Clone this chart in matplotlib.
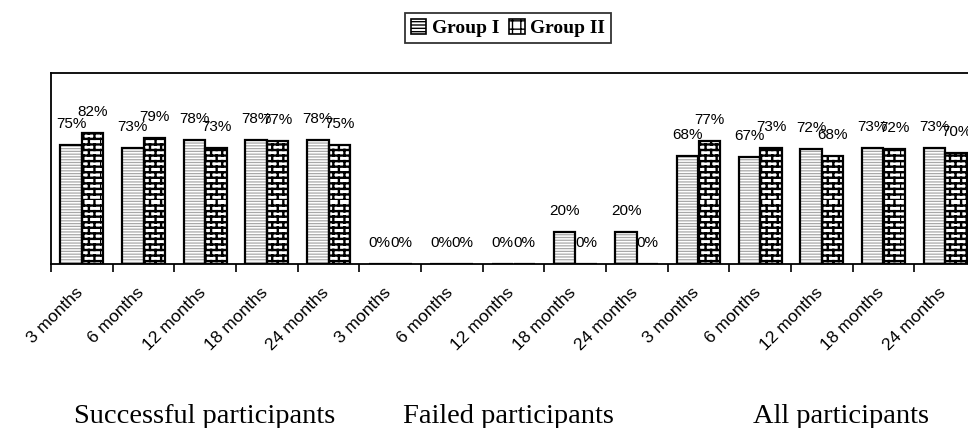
import warnings
warnings.filterwarnings("ignore")
import numpy as np
import matplotlib
matplotlib.use("Agg")
import matplotlib.pyplot as plt
import matplotlib.hatch as mhatch
import matplotlib.transforms as mtrans
from matplotlib.path import Path
from matplotlib.patches import Patch

# ---------------- data ----------------
months = ["3 months", "6 months", "12 months", "18 months", "24 months"]
sections = ["Successful participants", "Failed participants", "All participants"]
group1_success = [75, 73, 78, 78, 78]
group2_success = [82, 79, 73, 77, 75]
group1_failed = [0, 0, 0, 20, 20]
group2_failed = [0, 0, 0, 0, 0]
group1_all = [68, 67, 72, 73, 73]
group2_all = [77, 73, 68, 72, 70]
series_names = ["Group I", "Group II"]

categories = months * 3
g1 = group1_success + group1_failed + group1_all
g2 = group2_success + group2_failed + group2_all


# ---------------- custom brick hatch ----------------
class BrickHatch(mhatch.HatchPatternBase):
    def __init__(self, hatch, density):
        self.n = int(hatch.count('b') * density * 1.6)
        self.num_vertices = self.n * self.n * 8 if self.n else 0

    def set_vertices_and_codes(self, vertices, codes):
        n = self.n
        s = 1.0 / n
        k = 0
        for i in range(n):
            for j in range(n):
                x0, y0 = i * s, j * s
                segs = [((x0, y0), (x0 + s, y0)),
                        ((x0, y0 + s / 2), (x0 + s, y0 + s / 2)),
                        ((x0, y0), (x0, y0 + s / 2)),
                        ((x0 + s / 2, y0 + s / 2), (x0 + s / 2, y0 + s))]
                for a, b in segs:
                    vertices[k] = a
                    codes[k] = Path.MOVETO
                    vertices[k + 1] = b
                    codes[k + 1] = Path.LINETO
                    k += 2


mhatch._hatch_types.append(BrickHatch)

# ---------------- figure ----------------
W, H = 968, 428
fig = plt.figure(figsize=(W / 100, H / 100), dpi=100)
ax_left, ax_right, ax_top, ax_bot = 51, 976, 73, 264
ax = fig.add_axes([ax_left / W, 1 - ax_bot / H, (ax_right - ax_left) / W, (ax_bot - ax_top) / H])

x = np.arange(len(categories))
bw = 0.35
x1 = x - bw / 2
x2 = x + bw / 2
v1 = np.array(g1) / 100
v2 = np.array(g2) / 100

# Group I: light gray horizontal stripes
with plt.rc_context({'hatch.linewidth': 0.9}):
    ax.bar(x1, v1, bw, color='white', edgecolor='#a8a8a8', hatch='------', linewidth=0, zorder=2)
ax.bar(x1, v1, bw, facecolor='none', edgecolor='black', linewidth=1.6, zorder=3)

# Group II: brick pattern
with plt.rc_context({'hatch.linewidth': 1.7}):
    ax.bar(x2, v2, bw, color='white', edgecolor='black', hatch='b', linewidth=0, zorder=2)
ax.bar(x2, v2, bw, facecolor='none', edgecolor='black', linewidth=1.6, zorder=3)

# value labels (drawn beneath bars)
for xi, v in zip(x1, g1):
    ax.annotate(f"{v}%", (xi, v / 100), xytext=(0, 14), textcoords='offset pixels',
                ha='center', va='bottom', fontsize=11, family='Liberation Sans', zorder=1)
for xi, v in zip(x2, g2):
    ax.annotate(f"{v}%", (xi, v / 100), xytext=(0, 14), textcoords='offset pixels',
                ha='center', va='bottom', fontsize=11, family='Liberation Sans', zorder=1)

ax.set_xlim(-0.5, len(categories) - 0.5)
ax.set_ylim(0, 1.2)
ax.set_yticks([])
ax.set_xticks(np.arange(len(categories) + 1) - 0.5)
ax.set_xticklabels([])
ax.tick_params(axis='x', which='major', length=6, width=1.2, direction='out')
ax.set_xticks(x, minor=True)
ax.set_xticklabels(categories, minor=True, rotation=45, ha='right', va='top',
                   rotation_mode='anchor', fontsize=12.5, family='Liberation Sans')
ax.tick_params(axis='x', which='minor', length=0, pad=15)
shift = mtrans.ScaledTranslation(-7 / 100, 0, fig.dpi_scale_trans)
for lab in ax.get_xticklabels(minor=True):
    lab.set_transform(lab.get_transform() + shift)
for s in ['left', 'top', 'bottom', 'right']:
    ax.spines[s].set_linewidth(1.3)
    ax.spines[s].set_color('black')

# section labels
sec_x = [205, 508, 841]
for sx, name in zip(sec_x, sections):
    fig.text(sx / W, 1 - 423 / H, name, ha='center', va='baseline', fontsize=20.5,
             family='Liberation Serif')

# legend
with plt.rc_context({'hatch.linewidth': 1.2}):
    h1 = Patch(facecolor='white', edgecolor='black', hatch='-----', linewidth=1.2)
    h2 = Patch(facecolor='white', edgecolor='black', hatch='++', linewidth=1.2)
leg = fig.legend([h1, h2], series_names, loc='center', bbox_to_anchor=(508 / W, 1 - 28 / H),
                 ncol=2, frameon=True, fancybox=False, edgecolor='black', handlelength=0.8,
                 handleheight=0.8, handletextpad=0.3, columnspacing=0.5, borderpad=0.3,
                 prop={'family': 'Liberation Serif', 'weight': 'bold', 'size': 14})
leg.get_frame().set_linewidth(1.3)

fig.savefig("out.png", dpi=100)
